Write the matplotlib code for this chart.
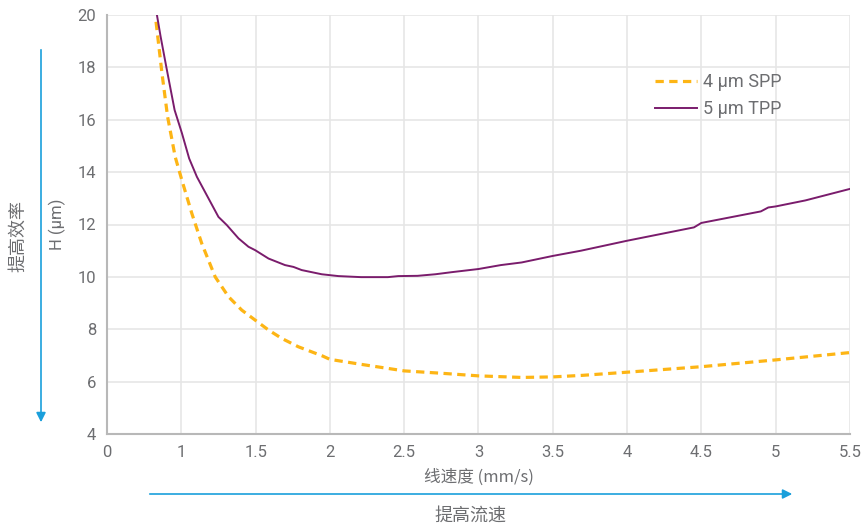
import matplotlib.pyplot as plt

# speed (mm/s) vs plate height H (um)
spp_x = [0.83, 0.87, 0.908, 0.959, 1.004, 1.071, 1.138, 1.228, 1.318, 1.407, 1.497, 1.587,
         1.676, 1.788, 1.95, 2.0, 2.21, 2.5, 2.75, 3.0, 3.29, 3.5, 3.7, 4.0, 4.5, 5.0, 5.5]
spp_h = [19.74, 17.77, 16.11, 14.58, 13.69, 12.42, 11.27, 10.0, 9.24, 8.73, 8.35, 7.97,
         7.65, 7.33, 6.98, 6.85, 6.66, 6.41, 6.32, 6.22, 6.16, 6.18, 6.24, 6.36, 6.57, 6.83, 7.11]

tpp_x = [0.836, 0.86, 0.899, 0.955, 1.004, 1.053, 1.105, 1.25, 1.306, 1.385, 1.452, 1.497,
         1.587, 1.698, 1.755, 1.81, 1.945, 2.057, 2.21, 2.39, 2.46, 2.59, 2.71, 2.82, 3.0,
         3.15, 3.29, 3.5, 3.69, 4.0, 4.45, 4.5, 4.9, 4.95, 5.0, 5.2, 5.5]
tpp_h = [20.0, 19.2, 18.02, 16.37, 15.49, 14.52, 13.82, 12.29, 11.98, 11.47, 11.15, 11.02,
         10.70, 10.45, 10.38, 10.26, 10.10, 10.03, 9.99, 9.99, 10.03, 10.04, 10.10, 10.18, 10.30,
         10.45, 10.55, 10.80, 11.0, 11.38, 11.89, 12.06, 12.50, 12.65, 12.69, 12.92, 13.36]

xticks = [0.5, 1, 1.5, 2, 2.5, 3, 3.5, 4, 4.5, 5, 5.5]
xlabels = ['0', '1', '1.5', '2', '2.5', '3', '3.5', '4', '4.5', '5', '5.5']
yticks = [4, 6, 8, 10, 12, 14, 16, 18, 20]

gray = '#6d6e71'
blue = '#1a9fdb'
cjk = ['Noto Sans CJK SC', 'DejaVu Sans']

fig = plt.figure(figsize=(8.64, 5.29), dpi=100)
ax = fig.add_axes([107/864, 95/529, 743/864, 419/529])

ax.plot(spp_x, spp_h, color='#fdb515', lw=2.3, dashes=(2.6, 1.7), label='4 μm SPP')
ax.plot(tpp_x, tpp_h, color='#7a1c6c', lw=1.4, label='5 μm TPP')

ax.set_xlim(0.5, 5.5)
ax.set_ylim(4, 20)
ax.set_xticks(xticks)
ax.set_xticklabels(xlabels)
ax.set_yticks(yticks)
ax.grid(True, color='#e6e6e6', lw=1.2)
ax.set_axisbelow(True)
for s in ['top', 'right']:
    ax.spines[s].set_visible(False)
for s in ['left', 'bottom']:
    ax.spines[s].set_color('#b8b8b8')
    ax.spines[s].set_linewidth(1.5)
ax.tick_params(length=0, labelsize=12, labelcolor=gray, pad=8)
for lab in ax.get_xticklabels() + ax.get_yticklabels():
    lab.set_family('Roboto')

ax.set_xlabel('线速度 (mm/s)', family=cjk, fontsize=12, color=gray, labelpad=6)
ax.set_ylabel('H (μm)', family=['Roboto', 'DejaVu Sans'], fontsize=12, color=gray)
ax.yaxis.label.set_va('center')
ax.yaxis.set_label_coords(-0.067, 0.5)

leg = ax.legend(loc='upper left', bbox_to_anchor=(0.716, 0.90), frameon=False,
                prop={'family': 'Roboto', 'size': 13}, handlelength=2.3,
                handletextpad=0.35, labelspacing=0.5)
for t in leg.get_texts():
    t.set_color(gray)

# direction arrows
ax.annotate('', xy=(41, 104), xytext=(41, 482), xycoords='figure pixels',
            textcoords='figure pixels',
            arrowprops=dict(arrowstyle='-|>', color=blue, lw=1.2, mutation_scale=14))
ax.annotate('', xy=(795, 35), xytext=(147, 35), xycoords='figure pixels',
            textcoords='figure pixels',
            arrowprops=dict(arrowstyle='-|>', color=blue, lw=1.2, mutation_scale=14))
fig.text(18/864, 1 - 236/529, '提高效率', family=cjk, fontsize=13, color=gray,
         rotation=90, ha='center', va='center')
fig.text(470/864, 1 - 516/529, '提高流速', family=cjk, fontsize=13, color=gray,
         ha='center', va='center')

fig.savefig('out.png', dpi=100)
